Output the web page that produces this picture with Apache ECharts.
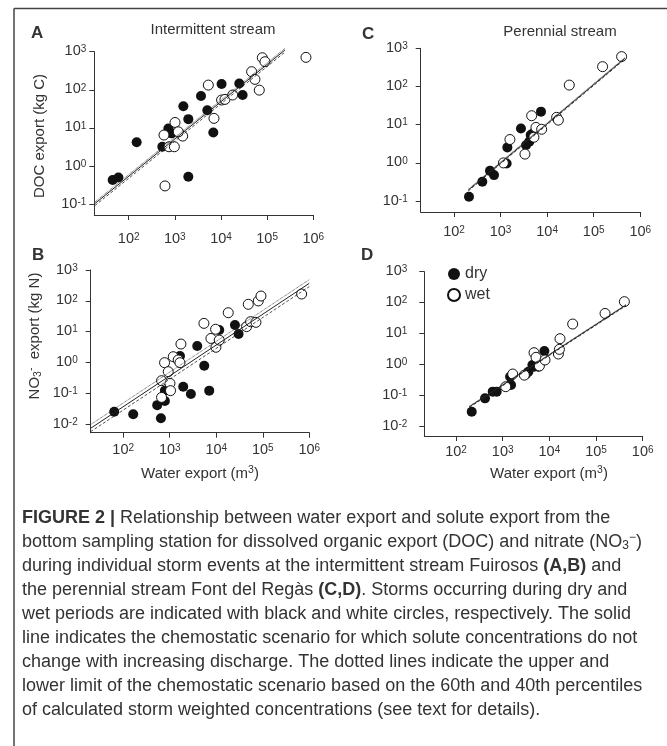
<!DOCTYPE html>
<html><head><meta charset="utf-8">
<script src="https://cdn.jsdelivr.net/npm/echarts@6/dist/echarts.min.js"></script>
<style>html,body{margin:0;padding:0;background:#fff}#c{width:667px;height:746px}</style>
</head><body><div id="c"></div>
<script>
// ---------- data ----------
const xTicks = [100, 1000, 10000, 100000, 1000000];
const yTicksAC = [0.1, 1, 10, 100, 1000];
const yTicksBD = [0.01, 0.1, 1, 10, 100, 1000];

// Panel A: DOC, intermittent stream  [water m3, DOC kg C]
const docIntDry = [[45,0.43],[60,0.50],[149,4.2],[536,3.2],[723,9.7],[853,7.2],[1960,17],[1530,37],[1960,0.52],[3690,69],[5060,29],[10300,142],[6820,7.6],[24900,147],[29400,73]];
const docIntWet = [[612,0.30],[582,6.5],[748,3.2],[975,3.2],[1010,13.9],[1480,6.1],[1190,7.9],[5320,133],[7050,17.8],[10300,54],[12200,56],[17900,73],[46100,299],[54400,188],[67600,98],[78500,695],[89700,546],[693000,710]];
// Panel B: NO3, intermittent stream
const no3IntDry = [[64,0.025],[164,0.0206],[538,0.041],[646,0.0153],[787,0.056],[787,0.121],[1660,1.61],[1950,0.163],[2850,0.094],[3900,3.4],[5520,0.78],[7060,0.121],[11600,11.3],[25200,16.4],[30200,8.4]];
const no3IntWet = [[667,0.255],[667,0.073],[774,0.98],[929,0.50],[1010,0.209],[1040,0.121],[1190,1.53],[1520,1.20],[1740,3.95],[1660,0.98],[5430,18.5],[7670,6.0],[9680,11.9],[9840,3.1],[11600,5.3],[18100,41],[48800,77],[44900,14.5],[54700,21],[71300,20],[80000,99],[91400,143],[684000,166]];
// Panel C: DOC, perennial stream
const docPerDry = [[210,0.13],[406,0.32],[593,0.62],[723,0.48],[1400,2.55],[1350,0.97],[2740,8.0],[3520,2.9],[4140,3.6],[4430,5.4],[4890,5.9],[7380,22]];
const docPerWet = [[1150,1.0],[1590,4.1],[3340,1.7],[4650,17.2],[5750,8.5],[7620,7.6],[16000,15.6],[17400,13.2],[29900,109],[155000,331],[397000,605],[5210,4.7]];
// Panel D: NO3, perennial stream
const no3PerDry = [[217,0.0305],[418,0.082],[611,0.135],[743,0.135],[1440,0.41],[1510,0.22],[3160,0.49],[3550,0.59],[4330,0.97],[4690,0.86],[5810,0.86],[7820,2.76]];
const no3PerWet = [[1160,0.195],[1640,0.50],[2910,0.46],[4690,2.44],[5180,1.73],[6110,0.91],[8070,1.42],[15600,2.21],[16400,3.13],[16900,6.9],[31600,20.5],[156000,45],[405000,108]];

// Chemostatic lines (end points): x = water export, mid = solid, hi/lo = 60th/40th percentile
const chemoA_x = [18.7, 243000], chemoA_mid = [0.104, 1107], chemoA_hi = [0.115, 1220], chemoA_lo = [0.092, 975];
const chemoB_x = [19.8, 1000000], chemoB_mid = [0.0072, 369], chemoB_hi = [0.0095, 487], chemoB_lo = [0.0056, 288];
const chemoC_x = [203, 469000], chemoC_mid = [0.194, 547], chemoC_hi = [0.205, 580], chemoC_lo = [0.184, 520];
const chemoD_x = [193, 440000], chemoD_mid = [0.044, 84], chemoD_hi = [0.046, 88], chemoD_lo = [0.042, 80];

// ---------- styling ----------
const FF = '"Liberation Sans", Arial, Helvetica, sans-serif';
const TXT = '#333';
const RICH = {
  b: {fontSize: 14.5, lineHeight: 14, verticalAlign: 'bottom', fontFamily: FF, color: TXT},
  s: {fontSize: 10, lineHeight: 10, padding: [0, 0, 7, 0], verticalAlign: 'top', fontFamily: FF, color: TXT}
};
function pow10Label(v) {
  const e = Math.round(Math.log10(v));
  return '{b|10}{s|' + (e < 0 ? '-' + (-e) : e) + '}';
}
function axisBase(gi, min, max, ticks, margin) {
  return {
    type: 'log', logBase: 10, gridIndex: gi, min: min, max: max,
    axisLine: {show: true, onZero: false, lineStyle: {color: '#333', width: 1}},
    axisTick: {show: true, length: 5, customValues: ticks, lineStyle: {color: '#333', width: 1}},
    axisLabel: {customValues: ticks, margin: margin, formatter: pow10Label, rich: RICH, color: TXT},
    splitLine: {show: false}, minorTick: {show: false}, minorSplitLine: {show: false}
  };
}
function pair(xs, ys) { return xs.map((x, i) => [x, ys[i]]); }
function dots(name, data, gi) {
  const wet = name === 'wet';
  return {
    type: 'scatter', name: name, xAxisIndex: gi, yAxisIndex: gi, data: data,
    symbol: 'circle', symbolSize: 10, z: 2,
    itemStyle: wet ? {color: '#fff', borderColor: '#111', borderWidth: 1, opacity: 1}
                   : {color: '#111', borderWidth: 0, opacity: 1},
    emphasis: {disabled: true}
  };
}
function chemo(gi, xs, ys, type, w) {
  return {
    type: 'line', xAxisIndex: gi, yAxisIndex: gi, data: pair(xs, ys),
    symbol: 'none', clip: false, silent: true, z: 3,
    lineStyle: {color: '#222', width: w, type: type}
  };
}

const grids = [
  {left: 94.3, top: 51.7, width: 219, height: 163.3},
  {left: 90.7, top: 270, width: 218.6, height: 162.7},
  {left: 420.7, top: 48.3, width: 219.6, height: 163.7},
  {left: 424.3, top: 271.7, width: 218.4, height: 164.3}
].map(g => Object.assign({outerBoundsMode: 'none', containLabel: false}, g));

const xAxes = [
  axisBase(0, 18.0, 1e6, xTicks, 17),
  axisBase(1, 20.0, 1e6, xTicks, 11),
  axisBase(2, 19.3, 1e6, xTicks, 13),
  axisBase(3, 20.9, 1e6, xTicks, 9)
];
const yAxes = [
  axisBase(0, 0.0518, 1000, yTicksAC, 8),
  axisBase(1, 0.00522, 1000, yTicksBD, 13),
  axisBase(2, 0.0519, 1000, yTicksAC, 13),
  axisBase(3, 0.00501, 1000, yTicksBD, 17)
];

const series = [
  dots('dry', docIntDry, 0), dots('wet', docIntWet, 0),
  chemo(0, chemoA_x, chemoA_mid, 'solid', 1), chemo(0, chemoA_x, chemoA_hi, 'dotted', 0.8), chemo(0, chemoA_x, chemoA_lo, [3, 2], 0.8),
  dots('dry', no3IntDry, 1), dots('wet', no3IntWet, 1),
  chemo(1, chemoB_x, chemoB_mid, 'solid', 1), chemo(1, chemoB_x, chemoB_hi, 'dotted', 0.8), chemo(1, chemoB_x, chemoB_lo, [3, 2], 0.8),
  dots('dry', docPerDry, 2), dots('wet', docPerWet, 2),
  chemo(2, chemoC_x, chemoC_mid, 'solid', 1), chemo(2, chemoC_x, chemoC_hi, 'dotted', 0.8), chemo(2, chemoC_x, chemoC_lo, [3, 2], 0.8),
  dots('dry', no3PerDry, 3), dots('wet', no3PerWet, 3),
  chemo(3, chemoD_x, chemoD_mid, 'solid', 1), chemo(3, chemoD_x, chemoD_hi, 'dotted', 0.8), chemo(3, chemoD_x, chemoD_lo, [3, 2], 0.8)
];

function txt(text, x, y, size, opts) {
  opts = opts || {};
  return {
    type: 'text', x: x, y: y, rotation: opts.rot || 0, silent: true, z: 10,
    style: Object.assign({
      text: text, fill: TXT, fontSize: size, fontFamily: FF, fontWeight: opts.bold ? 'bold' : 'normal',
      align: opts.align || 'center', verticalAlign: 'middle'
    }, opts.rich ? {rich: opts.rich} : {})
  };
}
const capRich = {
  b: {fontSize: 18, fontFamily: FF, fontWeight: 'bold', fill: TXT, color: TXT},
  sub: {fontSize: 12, fontFamily: FF, fill: TXT, color: TXT, padding: [8, 0, 0, 0]},
  sup: {fontSize: 12, fontFamily: FF, fill: TXT, color: TXT, padding: [0, 0, 8, 0]}
};
const nameRich = {
  n: {fontSize: 15, fontFamily: FF, color: TXT},
  sub: {fontSize: 10.5, fontFamily: FF, color: TXT, padding: [7, 0, 0, 0]},
  sup: {fontSize: 10.5, fontFamily: FF, color: TXT, padding: [0, 0, 7, 0]}
};
const captionLines = [
  '{b|FIGURE 2 |} Relationship between water export and solute export from the',
  'bottom sampling station for dissolved organic export (DOC) and nitrate (NO{sub|3}{sup|−})',
  'during individual storm events at the intermittent stream Fuirosos {b|(A,B)} and',
  'the perennial stream Font del Regàs {b|(C,D)}. Storms occurring during dry and',
  'wet periods are indicated with black and white circles, respectively. The solid',
  'line indicates the chemostatic scenario for which solute concentrations do not',
  'change with increasing discharge. The dotted lines indicate the upper and',
  'lower limit of the chemostatic scenario based on the 60th and 40th percentiles',
  'of calculated storm weighted concentrations (see text for details).'
];

const graphics = [
  {type: 'line', silent: true, shape: {x1: 14, y1: 8.5, x2: 667, y2: 8.5}, style: {stroke: '#444', lineWidth: 1.5}},
  {type: 'line', silent: true, shape: {x1: 14, y1: 8.5, x2: 14, y2: 746}, style: {stroke: '#444', lineWidth: 1.5}},
  txt('A', 31, 33, 17, {bold: true, align: 'left'}),
  txt('B', 32, 255, 17, {bold: true, align: 'left'}),
  txt('C', 362, 34, 17, {bold: true, align: 'left'}),
  txt('D', 361, 255, 17, {bold: true, align: 'left'}),
  txt('Intermittent stream', 213, 30, 15),
  txt('Perennial stream', 560, 32, 15),
  txt('{n|DOC export (kg C)}', 40, 136, 15, {rot: Math.PI / 2, rich: nameRich}),
  txt('{n|NO}{sub|3}{sup|-}{n|  export (kg N)}', 35, 336, 15, {rot: Math.PI / 2, rich: nameRich}),
  txt('{n|Water export (m}{sup|3}{n|)}', 200, 474, 15, {rich: nameRich}),
  txt('{n|Water export (m}{sup|3}{n|)}', 549, 474, 15, {rich: nameRich})
];
captionLines.forEach((line, i) => {
  graphics.push(txt(line, 22, 518 + 24 * i, 18, {align: 'left', rich: capRich}));
});

const chart = echarts.init(document.getElementById('c'), null, {renderer: 'canvas'});
chart.setOption({
  animation: false,
  backgroundColor: '#fff',
  grid: grids,
  xAxis: xAxes,
  yAxis: yAxes,
  legend: {
    data: ['dry', 'wet'], orient: 'vertical', left: 442, top: 261,
    icon: 'circle', itemWidth: 12, itemHeight: 12, itemGap: 5, selectedMode: false,
    textStyle: {fontSize: 16, fontFamily: FF, color: TXT, lineHeight: 14}
  },
  series: series,
  graphic: graphics
});
</script>
</body></html>
